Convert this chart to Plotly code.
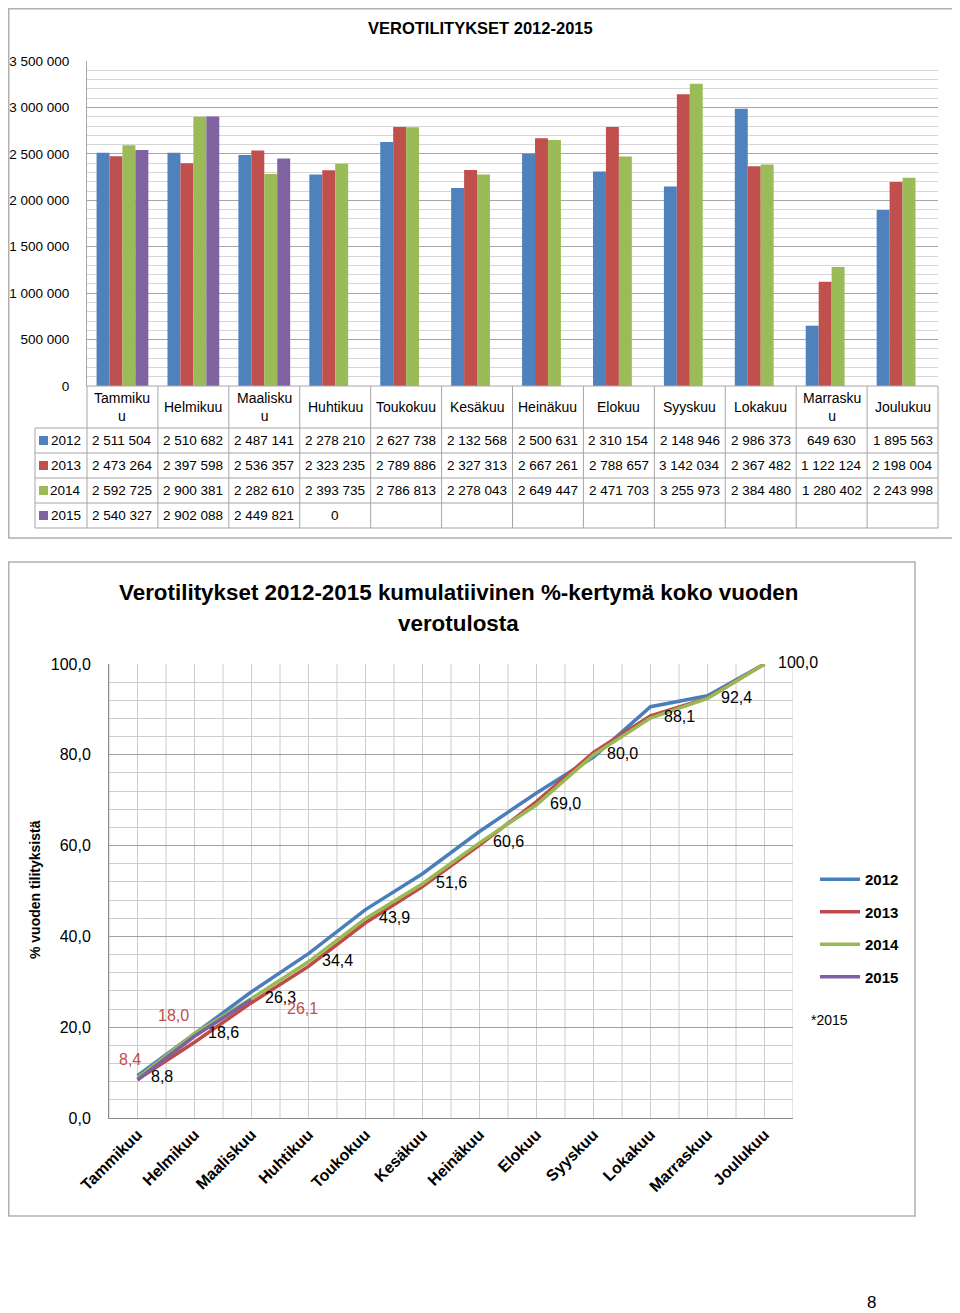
import plotly.graph_objects as go

# ---------------- data ----------------
months = ["Tammikuu", "Helmikuu", "Maaliskuu", "Huhtikuu", "Toukokuu", "Kesäkuu",
          "Heinäkuu", "Elokuu", "Syyskuu", "Lokakuu", "Marraskuu", "Joulukuu"]
table_headers = ["Tammiku<br>u", "Helmikuu", "Maalisku<br>u", "Huhtikuu", "Toukokuu", "Kesäkuu",
                 "Heinäkuu", "Elokuu", "Syyskuu", "Lokakuu", "Marrasku<br>u", "Joulukuu"]
years = ["2012", "2013", "2014", "2015"]

v2012 = [2511504, 2510682, 2487141, 2278210, 2627738, 2132568, 2500631, 2310154, 2148946, 2986373, 649630, 1895563]
v2013 = [2473264, 2397598, 2536357, 2323235, 2789886, 2327313, 2667261, 2788657, 3142034, 2367482, 1122124, 2198004]
v2014 = [2592725, 2900381, 2282610, 2393735, 2786813, 2278043, 2649447, 2471703, 3255973, 2384480, 1280402, 2243998]
v2015 = [2540327, 2902088, 2449821, 0, None, None, None, None, None, None, None, None]

cum2012 = [9.3, 18.6, 27.8, 36.2, 45.9, 53.8, 63.1, 71.6, 79.5, 90.6, 93.0, 100.0]
cum2013 = [8.5, 16.7, 25.4, 33.4, 43.0, 51.0, 60.1, 69.7, 80.5, 88.6, 92.5, 100.0]
cum2014 = [8.8, 18.6, 26.3, 34.4, 43.9, 51.6, 60.6, 69.0, 80.0, 88.1, 92.4, 100.0]
cum2015 = [8.4, 18.0, 26.1]

bar_title = "VEROTILITYKSET 2012-2015"
line_title = ["Verotilitykset 2012-2015 kumulatiivinen %-kertymä koko vuoden", "verotulosta"]
line_ytitle = "% vuoden tilityksistä"
note_text = "*2015"
page_number = "8"

# ---------------- style ----------------
# the page body has an 8px margin: the figure is placed at (8, 8)
OFF = 8
W, H = 960 - OFF, 1313 - OFF
def px(x): return (max(x, OFF + 0.75) - OFF) / W
def py(y): return 1 - (max(y, OFF + 0.75) - OFF) / H

bar_colors = ["#4F81BD", "#C0504D", "#9BBB59", "#8064A2"]
line_colors = ["#4A7EBB", "#BE4B48", "#98B954", "#7D60A0"]
SANS = "Liberation Sans, Arial, sans-serif"
TBL = dict(family=SANS, size=13.5, color="#000")
BORDER = "#A6A6A6"

def fmt_int(v):
    return f"{v:,}".replace(",", " ")

def fmt_pct(v):
    return f"{v:.1f}".replace(".", ",")

fig = go.Figure()

# ---------------- bar chart ----------------
for name, vals, col in zip(years, [v2012, v2013, v2014, v2015], bar_colors):
    fig.add_trace(go.Bar(x=months, y=vals, name=name, marker=dict(color=col, line=dict(width=0)),
                         xaxis="x", yaxis="y", showlegend=False))

# ---------------- line chart ----------------
for name, vals, col in zip(years, [cum2012, cum2013, cum2014, cum2015], line_colors):
    if name == "2014":
        kw = dict(mode="lines+markers+text", text=[fmt_pct(v) for v in vals],
                  textposition="middle right", textfont=dict(family=SANS, size=16, color="#000000"),
                  marker=dict(size=20, color="rgba(0,0,0,0)"), cliponaxis=False)
    else:
        kw = dict(mode="lines")
    fig.add_trace(go.Scatter(x=months[:len(vals)], y=vals, name=name, xaxis="x2", yaxis="y2",
                             line=dict(color=col, width=3.5), legendgroup=name, **kw))

annotations = []
shapes = []

# bar chart title
annotations.append(dict(text=f"<b>{bar_title}</b>", x=px(480), y=py(28), xref="paper", yref="paper",
                        xanchor="center", yanchor="middle",
                        showarrow=False, font=dict(family=SANS, size=16.5, color="#000")))

# data table under bar chart
colw = (938 - 87) / 12
def colx(i): return 87 + i * colw
head_top, head_bot, row_h = 386, 428, 25
n_rows = len(years)
tbl_bot = head_bot + n_rows * row_h
line_kw = dict(color=BORDER, width=1)
shapes.append(dict(type="line", xref="paper", yref="paper", x0=px(colx(0)), x1=px(colx(12)),
                   y0=py(head_top), y1=py(head_top), line=line_kw))
for r in range(n_rows + 1):
    yy = head_bot + r * row_h
    shapes.append(dict(type="line", xref="paper", yref="paper", x0=px(35), x1=px(colx(12)),
                       y0=py(yy), y1=py(yy), line=line_kw))
for i in range(13):
    shapes.append(dict(type="line", xref="paper", yref="paper", x0=px(colx(i)), x1=px(colx(i)),
                       y0=py(head_top), y1=py(tbl_bot), line=line_kw))
shapes.append(dict(type="line", xref="paper", yref="paper", x0=px(35), x1=px(35),
                   y0=py(head_bot), y1=py(tbl_bot), line=line_kw))
for m, h in zip(months, table_headers):
    annotations.append(dict(text=h, x=m, xref="x", y=py((head_top + head_bot) / 2), yref="paper",
                            showarrow=False, xanchor="center", yanchor="middle",
                            font=dict(family=SANS, size=14, color="#000")))
for r, (name, vals, col) in enumerate(zip(years, [v2012, v2013, v2014, v2015], bar_colors)):
    yc = head_bot + r * row_h + row_h / 2
    shapes.append(dict(type="rect", xref="paper", yref="paper", x0=px(39), x1=px(48),
                       y0=py(yc + 4.5), y1=py(yc - 4.5), fillcolor=col, line=dict(width=0)))
    annotations.append(dict(text=name, x=px(83), y=py(yc), xref="paper", yref="paper",
                            xanchor="right", yanchor="middle", showarrow=False, font=TBL))
    for m, v in zip(months, vals):
        if v is None:
            continue
        annotations.append(dict(text=fmt_int(v), x=m, xref="x", y=py(yc), yref="paper",
                                xanchor="center", yanchor="middle", showarrow=False, font=TBL))

# top frame
shapes.append(dict(type="rect", xref="paper", yref="paper", x0=px(1), x1=px(956), y0=py(538), y1=py(1),
                   line=dict(color="#B0B0B0", width=1.5), layer="below"))

# vertical gridlines of line chart (category boundaries and centres)
for k in range(2 * len(months) + 1):
    gx = -0.5 + 0.5 * k
    shapes.append(dict(type="line", xref="x2", yref="y2", x0=gx, x1=gx, y0=0, y1=100,
                       line=dict(color="#CCCCCC", width=1), layer="below"))

# line chart title
for txt, yy in zip(line_title, [592, 623]):
    annotations.append(dict(text=f"<b>{txt}</b>", x=px(458), y=py(yy), xref="paper", yref="paper",
                            xanchor="center", showarrow=False, yanchor="middle",
                            font=dict(family=SANS, size=22.4, color="#000")))
annotations.append(dict(text=f"<b>{line_ytitle}</b>", x=px(35), y=py(890), xref="paper", yref="paper",
                        xanchor="center", yanchor="middle",
                        textangle=-90, showarrow=False, font=dict(family=SANS, size=14, color="#000")))
shifts2015 = [(-8, 20), (-21, 21), (51, -9)]
for m, v, (dx, dy) in zip(months, cum2015, shifts2015):
    annotations.append(dict(text=fmt_pct(v), x=m, y=v, xref="x2", yref="y2", showarrow=False,
                            xanchor="center", yanchor="middle",
                            xshift=dx, yshift=dy, font=dict(family=SANS, size=16, color="#C0504D")))
annotations.append(dict(text=note_text, x=px(809), y=py(1020), xref="paper", yref="paper", xanchor="left",
                        yanchor="middle", showarrow=False, font=dict(family=SANS, size=14, color="#000")))
annotations.append(dict(text=page_number, x=px(871), y=py(1302), xref="paper", yref="paper",
                        xanchor="center", yanchor="middle",
                        showarrow=False, font=dict(family=SANS, size=17, color="#000")))
shapes.append(dict(type="rect", xref="paper", yref="paper", x0=px(2), x1=px(915), y0=py(1216), y1=py(562),
                   line=dict(color="#B0B0B0", width=1.5), layer="below"))

fig.update_layout(
    width=W, height=H, margin=dict(l=0, r=0, t=0, b=0, pad=0, autoexpand=False),
    paper_bgcolor="white", plot_bgcolor="white",
    separators=", ",
    barmode="group", bargap=0.27, bargroupgap=0,
    xaxis=dict(domain=[px(87), px(938)], anchor="y", type="category", categoryorder="array",
               categoryarray=months, range=[-0.5, 11.5], showticklabels=False, showgrid=False,
               ticks="", showline=False, zeroline=False, automargin=False),
    yaxis=dict(domain=[py(386), py(61)], anchor="x", range=[0, 3500000], dtick=500000, tickformat=",d",
               showgrid=True, gridcolor="#A6A6A6", gridwidth=1,
               minor=dict(dtick=100000, showgrid=True, gridcolor="#D6D6D6", gridwidth=1),
               showline=True, linecolor="#A6A6A6", ticks="", zeroline=False, ticklabelstandoff=14,
               automargin=False, tickfont=TBL),
    xaxis2=dict(domain=[px(109), px(793)], anchor="y2", type="category", categoryorder="array",
                categoryarray=months, range=[-0.5, 11.5], showgrid=False, ticks="", tickangle=-45,
                showline=True, linecolor="#8C8C8C", zeroline=False, automargin=False,
                tickfont=dict(family=SANS, size=16, color="#000", weight="bold")),
    yaxis2=dict(domain=[py(1118), py(664)], anchor="x2", range=[0, 100], dtick=20, tickformat=".1f",
                showgrid=True, gridcolor="#A0A0A0",
                minor=dict(dtick=4, showgrid=True, gridcolor="#CCCCCC"),
                showline=True, linecolor="#8C8C8C", ticks="", zeroline=False, ticklabelstandoff=14,
                automargin=False, tickfont=dict(family=SANS, size=16, color="#000")),
    legend=dict(x=px(815), y=py(863), xanchor="left", yanchor="top", bgcolor="rgba(0,0,0,0)",
                font=dict(family=SANS, size=15, color="#000", weight="bold"), tracegroupgap=10,
                itemwidth=40),
    annotations=annotations, shapes=shapes,
)

fig.write_html("out.html")
